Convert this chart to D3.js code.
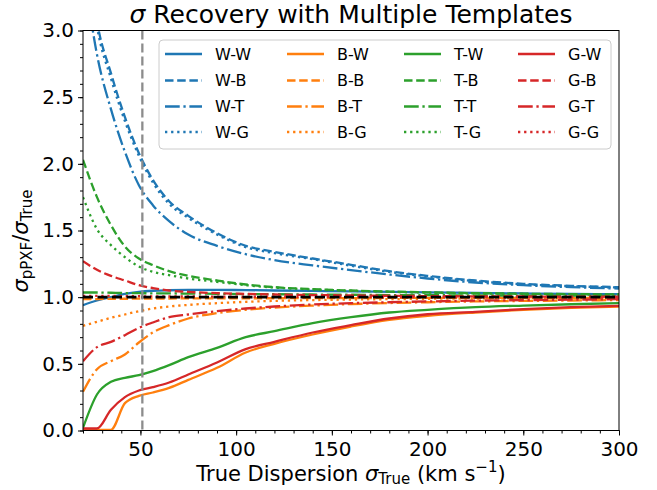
<!DOCTYPE html>
<html><head><meta charset="utf-8">
<script src="https://cdn.jsdelivr.net/npm/d3@7"></script>
<style>body{margin:0;background:#fff} text{font-family:"DejaVu Sans",sans-serif;fill:#000}</style>
</head><body><svg id="c" width="657" height="490"></svg>
<script>
// ---- data ----
const sigmaTrue = [20,27.3,34.6,41.9,49.2,56.5,65,75,90,105,120,140,160,180,200,225,250,275,300];
const W_W = [0.94,0.975,1.0,1.025,1.04,1.048,1.052,1.054,1.054,1.053,1.05,1.047,1.044,1.04,1.036,1.032,1.028,1.025,1.022];
const W_B = [3.9,3.07,2.68,2.35,2.08,1.88,1.72,1.61,1.48,1.385,1.34,1.29,1.243,1.195,1.16,1.125,1.10,1.085,1.075];
const W_T = [3.5,2.82,2.41,2.09,1.84,1.69,1.57,1.47,1.385,1.322,1.278,1.238,1.203,1.17,1.14,1.11,1.09,1.075,1.065];
const W_G = [3.85,3.03,2.64,2.32,2.06,1.86,1.70,1.595,1.47,1.375,1.33,1.285,1.236,1.19,1.155,1.12,1.096,1.082,1.072];
const B_W = [0.005,0.005,0.005,0.205,0.26,0.285,0.32,0.38,0.47,0.585,0.65,0.72,0.78,0.83,0.86,0.885,0.905,0.92,0.93];
const B_B = [0.985,0.986,0.987,0.988,0.989,0.99,0.99,0.991,0.991,0.992,0.992,0.993,0.993,0.994,0.994,0.994,0.995,0.995,0.995];
const B_T = [0.29,0.46,0.52,0.57,0.66,0.735,0.79,0.84,0.88,0.905,0.922,0.937,0.948,0.956,0.962,0.968,0.972,0.975,0.978];
const B_G = [0.785,0.815,0.845,0.87,0.895,0.915,0.93,0.942,0.955,0.965,0.972,0.978,0.982,0.985,0.988,0.99,0.992,0.993,0.994];
const T_W = [0.02,0.27,0.365,0.395,0.415,0.445,0.49,0.55,0.62,0.70,0.745,0.805,0.85,0.885,0.905,0.925,0.937,0.947,0.955];
const T_B = [2.03,1.75,1.54,1.38,1.29,1.24,1.195,1.16,1.125,1.095,1.075,1.06,1.05,1.042,1.036,1.03,1.026,1.023,1.02];
const T_T = [1.035,1.035,1.033,1.031,1.03,1.029,1.028,1.027,1.025,1.023,1.022,1.02,1.018,1.016,1.015,1.013,1.012,1.011,1.01];
const T_G = [1.75,1.51,1.39,1.30,1.23,1.19,1.165,1.14,1.115,1.09,1.072,1.058,1.048,1.04,1.034,1.028,1.024,1.021,1.018];
const G_W = [0.015,0.015,0.155,0.25,0.30,0.325,0.36,0.42,0.51,0.61,0.665,0.735,0.79,0.84,0.872,0.89,0.91,0.925,0.935];
const G_B = [1.27,1.205,1.16,1.125,1.09,1.068,1.05,1.04,1.03,1.025,1.02,1.016,1.013,1.01,1.008,1.006,1.005,1.004,1.003];
const G_T = [0.52,0.625,0.665,0.715,0.77,0.81,0.85,0.87,0.895,0.915,0.93,0.945,0.955,0.962,0.968,0.974,0.978,0.981,0.985];
const G_G = [1.01,1.01,1.009,1.008,1.007,1.006,1.005,1.005,1.004,1.003,1.003,1.002,1.002,1.001,1.001,1.001,1.0,1.0,1.0];
const templates = ["W","B","T","G"];
const colors = ["#1f77b4","#ff7f0e","#2ca02c","#d62728"];
const xTicks = [50,100,150,200,250,300];
const yTicks = [0,0.5,1.0,1.5,2.0,2.5,3.0];
const vLine = 51;
const seriesValues = {W_W,W_B,W_T,W_G,B_W,B_B,B_T,B_G,T_W,T_B,T_T,T_G,G_W,G_B,G_T,G_G};

// ---- layout ----
const L=83, R=619, T=30.5, B=430.5, lw=2.3;
const dashes = ["", `${3.7*lw},${1.6*lw}`, `${6.4*lw},${1.6*lw},${lw},${1.6*lw}`, `${lw},${1.65*lw}`];
const svg = d3.select("#c");
const x = d3.scaleLinear().domain([20,300]).range([L,R]);
const y = d3.scaleLinear().domain([0,3]).range([B,T]);

svg.append("defs").append("clipPath").attr("id","clip").append("rect")
  .attr("x",L).attr("y",T).attr("width",R-L).attr("height",B-T);

const line = d3.line().x((d,i)=>x(sigmaTrue[i])).y(d=>y(d)).curve(d3.curveMonotoneX);
const g = svg.append("g").attr("clip-path","url(#clip)");
templates.forEach((a,ci)=>{
  templates.forEach((b,si)=>{
    g.append("path").datum(seriesValues[a+"_"+b])
      .attr("d",line).attr("fill","none").attr("stroke",colors[ci])
      .attr("stroke-width",lw).attr("stroke-dasharray",dashes[si]||null)
      .attr("stroke-linejoin","round");
  });
});
g.append("line").attr("x1",L).attr("x2",R).attr("y1",y(1)).attr("y2",y(1))
  .attr("stroke","#000").attr("stroke-width",2.8).attr("stroke-dasharray","10,4.5");
g.append("line").attr("x1",x(vLine)).attr("x2",x(vLine)).attr("y1",T).attr("y2",B)
  .attr("stroke","#8c8c8c").attr("stroke-width",2.3).attr("stroke-dasharray","9,4");

// axes
const xAxis = d3.axisBottom(x).tickValues(xTicks).tickSize(5).tickPadding(6).tickFormat(d3.format("d"));
const xMinor = d3.axisBottom(x).tickValues(d3.range(20,301,10)).tickSize(3).tickFormat("");
const yAxis = d3.axisLeft(y).tickValues(yTicks).tickSize(5).tickPadding(4).tickFormat(d3.format(".1f"));
const yMinor = d3.axisLeft(y).tickValues(d3.range(0,3.001,0.1)).tickSize(3).tickFormat("");
[ [xMinor,`translate(0,${B})`], [xAxis,`translate(0,${B})`], [yMinor,`translate(${L},0)`], [yAxis,`translate(${L},0)`] ]
 .forEach(([ax,tr])=>{
   const a = svg.append("g").attr("transform",tr).call(ax);
   a.select(".domain").remove();
   a.selectAll("text").attr("font-size",20).attr("font-family","DejaVu Sans").attr("fill","#000");
   a.selectAll("line").attr("stroke","#000");
 });
svg.append("rect").attr("x",L).attr("y",T).attr("width",R-L).attr("height",B-T)
  .attr("fill","none").attr("stroke","#000").attr("stroke-width",1);

// legend
const lg = svg.append("g");
lg.append("rect").attr("x",159).attr("y",40).attr("width",452).attr("height",109).attr("rx",4)
  .attr("fill","#fff").attr("fill-opacity",0.8).attr("stroke","#cccccc").attr("stroke-width",1);
const colX = [165,287,404,518], rowY=[54,80.5,106.5,132];
templates.forEach((a,ci)=>{
  templates.forEach((b,si)=>{
    lg.append("line").attr("x1",colX[ci]).attr("x2",colX[ci]+37).attr("y1",rowY[si]).attr("y2",rowY[si])
      .attr("stroke",colors[ci]).attr("stroke-width",lw).attr("stroke-dasharray",dashes[si]||null);
    lg.append("text").attr("x",colX[ci]+50).attr("y",rowY[si]).attr("dy","0.36em")
      .attr("font-size",16).text(a+"-"+b);
  });
});

// title and labels
const title = svg.append("text").attr("x",(L+R)/2).attr("y",23).attr("text-anchor","middle").attr("font-size",25);
title.append("tspan").attr("font-style","italic").text("σ");
title.append("tspan").text(" Recovery with Multiple Templates");

const xl = svg.append("text").attr("x",(L+R)/2).attr("y",481).attr("text-anchor","middle").attr("font-size",21);
xl.append("tspan").text("True Dispersion ");
xl.append("tspan").attr("font-style","italic").text("σ");
xl.append("tspan").attr("font-size",15).attr("dy",3).text("True");
xl.append("tspan").attr("dy",-3).text(" (km s");
xl.append("tspan").attr("font-size",15).attr("dy",-9).text("−1");
xl.append("tspan").attr("dy",9).text(")");

const yl = svg.append("text").attr("transform",`translate(28,241) rotate(-90)`)
  .attr("text-anchor","middle").attr("font-size",21);
yl.append("tspan").attr("font-style","italic").text("σ");
yl.append("tspan").attr("font-size",15).attr("dy",4).text("pPXF");
yl.append("tspan").attr("dy",-4).text("/");
yl.append("tspan").attr("font-style","italic").text("σ");
yl.append("tspan").attr("font-size",15).attr("dy",4).text("True");
</script></body></html>
